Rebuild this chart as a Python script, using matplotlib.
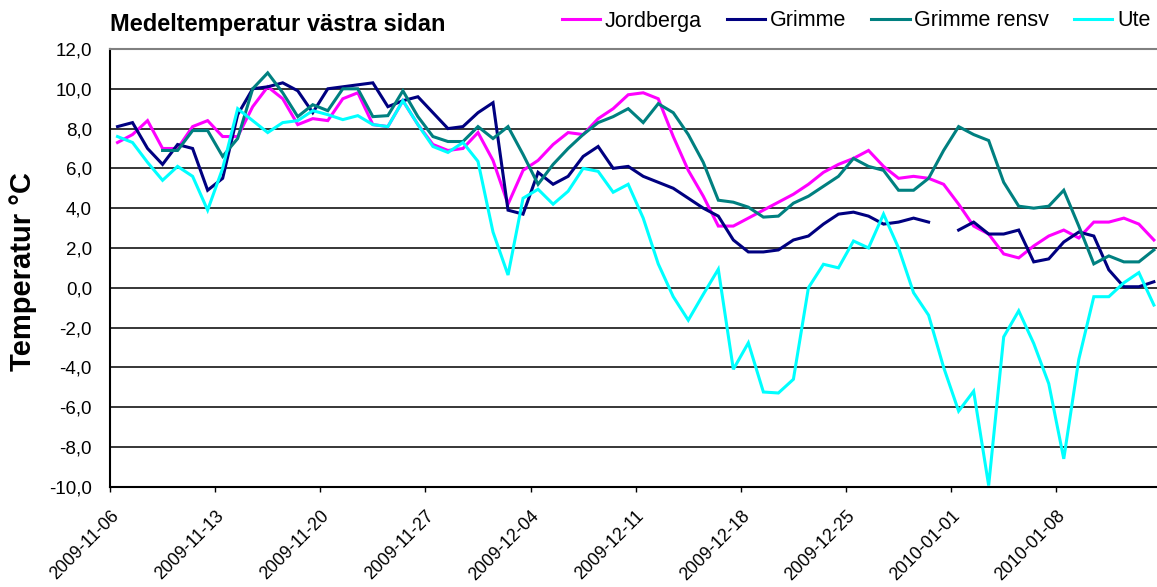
import numpy as np
import pandas as pd
import matplotlib
matplotlib.use("Agg")
from matplotlib import pyplot as plt

plt.rcParams['font.family'] = ['Liberation Sans', 'DejaVu Sans']

nan = np.nan

# daily values, 2009-11-06 .. 2010-01-14
dates = pd.date_range('2009-11-06', periods=70)

jordberga = [7.3, 7.7, 8.4, 7.0, 7.0, 8.1, 8.4, 7.6, 7.6, 9.1, 10.1, 9.5, 8.2, 8.5, 8.4, 9.5, 9.8, 8.2, 8.1, 9.4, 8.2, 7.2, 6.9,
             7.0, 7.8, 6.4, 4.2, 5.9, 6.4, 7.2, 7.8, 7.7, 8.5, 9.0, 9.7, 9.8, 9.5, 7.6, 5.9, 4.6, 3.1, 3.1, 3.5, 3.9, 4.3, 4.7,
             5.2, 5.8, 6.2, 6.5, 6.9, 6.1, 5.5, 5.6, 5.5, 5.2, 4.2, 3.1, 2.7, 1.7, 1.5, 2.1, 2.6, 2.9, 2.5, 3.3, 3.3, 3.5, 3.2, 2.4]

grimme = [8.1, 8.3, 7.0, 6.2, 7.2, 7.0, 4.9, 5.5, 8.7, 10.0, 10.1, 10.3, 9.9, 8.8, 10.0, 10.1, 10.2, 10.3, 9.1, 9.4, 9.6, 8.8, 8.0,
          8.1, 8.8, 9.3, 3.9, 3.7, 5.8, 5.2, 5.6, 6.6, 7.1, 6.0, 6.1, 5.6, 5.3, 5.0, 4.5, 4.0, 3.6, 2.4, 1.8, 1.8, 1.9, 2.4,
          2.6, 3.2, 3.7, 3.8, 3.6, 3.2, 3.3, 3.5, 3.3, nan, 2.9, 3.3, 2.7, 2.7, 2.9, 1.3, 1.45, 2.3, 2.8, 2.6, 0.9, 0.05, 0.05, 0.3]

grimme_rensv = [nan, nan, nan, 6.9, 6.9, 7.9, 7.9, 6.6, 7.5, 10.0, 10.8, 9.8, 8.6, 9.2, 8.9, 10.0, 10.0, 8.6, 8.65, 9.9, 8.6, 7.6, 7.35,
                7.35, 8.1, 7.5, 8.1, 6.7, 5.2, 6.2, 7.0, 7.7, 8.3, 8.6, 9.0, 8.3, 9.25, 8.8, 7.7, 6.3, 4.4, 4.3, 4.05, 3.55, 3.6, 4.25,
                4.6, 5.1, 5.6, 6.5, 6.1, 5.9, 4.9, 4.9, 5.5, 6.9, 8.1, 7.7, 7.4, 5.3, 4.1, 4.0, 4.1, 4.9, 3.1, 1.2, 1.6, 1.3, 1.3, 1.9]

ute = [7.6, 7.3, 6.3, 5.4, 6.1, 5.6, 3.9, 6.0, 9.0, 8.4, 7.8, 8.3, 8.4, 8.9, 8.7, 8.45, 8.65, 8.2, 8.1, 9.4, 8.2, 7.1, 6.8,
       7.3, 6.35, 2.8, 0.64, 4.5, 4.95, 4.2, 4.85, 6.0, 5.85, 4.8, 5.2, 3.5, 1.2, -0.45, -1.63, -0.33, 0.93, -4.1, -2.77, -5.24, -5.29, -4.6,
       0.0, 1.18, 1.0, 2.35, 2.0, 3.7, 2.0, -0.25, -1.38, -4.0, -6.2, -5.2, -9.94, -2.47, -1.16, -2.8, -4.82, -8.6, -3.6, -0.45, -0.45, 0.25, 0.76, -0.87]

series_names = ['Jordberga', 'Grimme', 'Grimme rensv', 'Ute']
series_colors = ['#FF00FF', '#000080', '#008080', '#00FFFF']

y_ticks = [-10, -8, -6, -4, -2, 0, 2, 4, 6, 8, 10, 12]
y_labels = ['-10,0', '-8,0', '-6,0', '-4,0', '-2,0', '0,0', '2,0', '4,0', '6,0', '8,0', '10,0', '12,0']
x_tick_labels = ['2009-11-06', '2009-11-13', '2009-11-20', '2009-11-27', '2009-12-04',
                 '2009-12-11', '2009-12-18', '2009-12-25', '2010-01-01', '2010-01-08']

W, H = 1157, 587
fig = plt.figure(figsize=(W / 100, H / 100), dpi=100)
# plot area runs past the right edge like in the original (cropped screenshot)
ax = fig.add_axes([110 / W, (H - 486.7) / H, 1051.4 / W, 437.7 / H])

x = np.arange(len(dates))
for vals, name, col in zip([jordberga, grimme, grimme_rensv, ute], series_names, series_colors):
    ax.plot(x, vals, color=col, lw=2.2, label=name, solid_joinstyle='miter')

ax.set_xlim(-0.5, len(dates) - 0.5)
ax.set_ylim(-10, 12)

ax.set_yticks(y_ticks, y_labels)
ax.yaxis.grid(True, color='black', lw=1.1)
ax.set_axisbelow(True)
ax.tick_params(axis='y', length=0, pad=13, labelsize=13.5)

tick_pos = [x[list(dates.strftime('%Y-%m-%d')).index(t)] - 0.5 for t in x_tick_labels]
ax.set_xticks(tick_pos, x_tick_labels, rotation=45, ha='right', rotation_mode='anchor')
ax.tick_params(axis='x', direction='out', length=3.6, width=1.0, pad=11, labelsize=12.8)

for s in ['left', 'bottom']:
    ax.spines[s].set_color('black')
    ax.spines[s].set_linewidth(1.5)
ax.spines['top'].set_color('#808080')
ax.spines['top'].set_linewidth(1.5)
ax.spines['right'].set_visible(False)

fig.text(23 / W, 1 - 272 / H, 'Temperatur °C', rotation=90, ha='center', va='center',
         fontsize=21, fontweight='bold')
fig.text(110 / W, 1 - 25 / H, 'Medeltemperatur västra sidan', ha='left', va='center',
         fontsize=17, fontweight='bold')

fig.legend(loc='center left', bbox_to_anchor=(562 / W, 1 - 21 / H), ncol=4, frameon=False,
           fontsize=15.5, handlelength=1.77, handletextpad=0.23, columnspacing=1.16,
           borderpad=0, borderaxespad=0)

fig.savefig('out.png', dpi=100)
